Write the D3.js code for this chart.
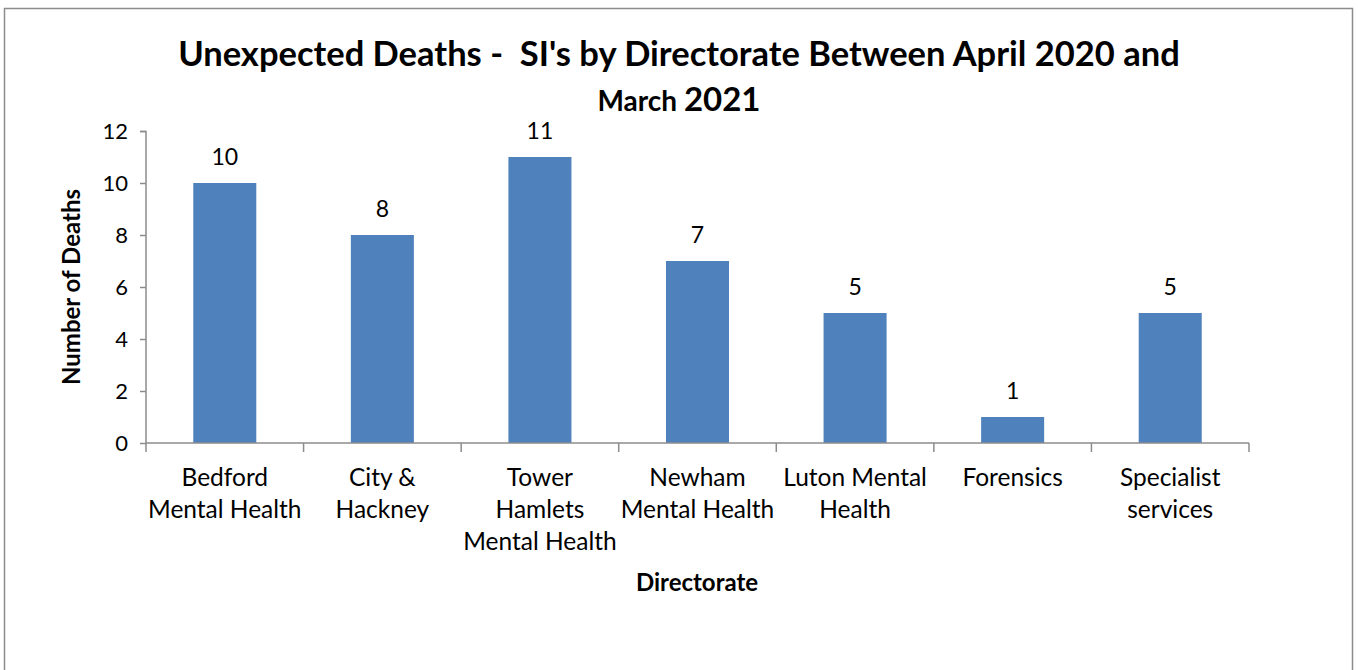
<!DOCTYPE html>
<html>
<head>
<meta charset="utf-8">
<script src="https://cdn.jsdelivr.net/npm/d3@7"></script>
<style>
  body { margin: 0; background: #fff; }
  svg { font-family: Lato, "Open Sans", sans-serif; }
</style>
</head>
<body>
<svg id="chart"></svg>
<script>
var directorates = [
    ["Bedford", "Mental Health"],
    ["City &", "Hackney"],
    ["Tower", "Hamlets", "Mental Health"],
    ["Newham", "Mental Health"],
    ["Luton Mental", "Health"],
    ["Forensics"],
    ["Specialist", "services"]
];
var deaths = [10, 8, 11, 7, 5, 1, 5];
var yTicks = [0, 2, 4, 6, 8, 10, 12];

var screen = {width: 1358, height: 670};
var margins = {top: 131, left: 146, right: 109, bottom: 227};
var graph = {
    width: screen.width - margins.left - margins.right,
    height: screen.height - margins.top - margins.bottom
};

var svg = d3.select("#chart")
    .attr("width", screen.width)
    .attr("height", screen.height);

// outer frame
svg.append("rect")
    .attr("x", 4.5).attr("y", 8.5)
    .attr("width", 1348).attr("height", 700)
    .attr("fill", "none")
    .attr("stroke", "#8c8c8c")
    .attr("stroke-width", 1.5);

var xScale = d3.scaleBand()
    .domain(d3.range(deaths.length))
    .range([0, graph.width])
    .paddingInner(0.6)
    .paddingOuter(0.3);

var yScale = d3.scaleLinear()
    .domain([0, 12])
    .range([graph.height, 0]);

var g = svg.append("g")
    .attr("transform", "translate(" + margins.left + "," + margins.top + ")");

// bars
g.selectAll("rect.bar")
    .data(deaths)
    .enter()
    .append("rect")
    .classed("bar", true)
    .attr("x", function(d, i) { return xScale(i); })
    .attr("y", function(d) { return yScale(d); })
    .attr("width", xScale.bandwidth())
    .attr("height", function(d) { return yScale(0) - yScale(d); })
    .attr("fill", "#4f81bd");

// value labels
g.selectAll("text.val")
    .data(deaths)
    .enter()
    .append("text")
    .classed("val", true)
    .attr("x", function(d, i) { return xScale(i) + xScale.bandwidth() / 2; })
    .attr("y", function(d) { return yScale(d) - 18; })
    .attr("text-anchor", "middle")
    .attr("font-size", 23)
    .text(function(d) { return d; });

// y axis
var yAxis = d3.axisLeft(yScale).tickValues(yTicks).tickSize(6).tickPadding(12);
var ya = g.append("g").call(yAxis);
ya.select(".domain").attr("stroke", "#8c8c8c").attr("stroke-width", 1.5).attr("d", "M-6,0.5H0V" + graph.height);
ya.selectAll(".tick line").attr("stroke", "#8c8c8c").attr("stroke-width", 1.5);
ya.selectAll(".tick text").attr("font-size", 22).attr("fill", "#000").attr("font-family", "Lato, sans-serif");

// x axis
var step = graph.width / deaths.length;
var xa = g.append("g").attr("transform", "translate(0," + graph.height + ")");
xa.append("path")
    .attr("d", "M0,0H" + graph.width)
    .attr("stroke", "#8c8c8c").attr("stroke-width", 1.5).attr("fill", "none");
xa.selectAll("line")
    .data(d3.range(deaths.length + 1))
    .enter()
    .append("line")
    .attr("x1", function(d) { return d * step; })
    .attr("x2", function(d) { return d * step; })
    .attr("y1", 0).attr("y2", 9)
    .attr("stroke", "#8c8c8c").attr("stroke-width", 1.5);

var labels = xa.selectAll("text.cat")
    .data(directorates)
    .enter()
    .append("text")
    .classed("cat", true)
    .attr("text-anchor", "middle")
    .attr("font-size", 24.5)
    .attr("transform", function(d, i) {
        return "translate(" + (xScale(i) + xScale.bandwidth() / 2) + ",0)";
    });
labels.selectAll("tspan")
    .data(function(d) { return d; })
    .enter()
    .append("tspan")
    .attr("x", 0)
    .attr("y", function(d, i) { return 43 + i * 32; })
    .text(function(d) { return d; });

// axis titles
svg.append("text")
    .attr("x", 697)
    .attr("y", 591)
    .attr("text-anchor", "middle")
    .attr("font-size", 24)
    .attr("font-weight", "bold")
    .text("Directorate");

svg.append("text")
    .attr("transform", "translate(80,287) rotate(-90)")
    .attr("text-anchor", "middle")
    .attr("font-size", 24)
    .attr("font-weight", "bold")
    .text("Number of Deaths");

// title
var title = svg.append("text")
    .attr("text-anchor", "middle")
    .attr("font-weight", "bold")
    .style("white-space", "pre");
title.append("tspan")
    .attr("x", 679).attr("y", 66)
    .attr("font-size", 34.5)
    .text("Unexpected Deaths -  SI's by Directorate Between April 2020 and");
title.append("tspan")
    .attr("x", 679).attr("y", 111)
    .attr("font-size", 28)
    .text("March ")
    .append("tspan")
    .attr("font-size", 33)
    .text("2021");
</script>
</body>
</html>
